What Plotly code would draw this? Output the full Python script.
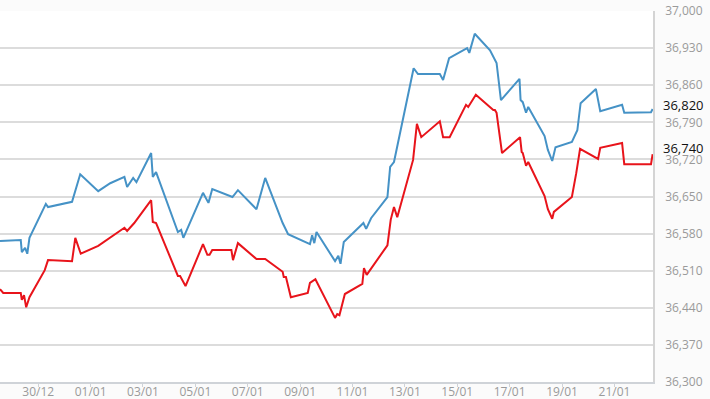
import plotly.graph_objects as go

blue_time = [
    "2022-12-28 13:00", "2022-12-29 08:00", "2022-12-29 09:00", "2022-12-29 12:00", "2022-12-29 14:00", "2022-12-29 16:00",
    "2022-12-30 07:00", "2022-12-30 09:00", "2022-12-31 07:00", "2022-12-31 14:30", "2023-01-01 07:00", "2023-01-01 18:00",
    "2023-01-02 07:00", "2023-01-02 09:30", "2023-01-02 15:00", "2023-01-02 18:00", "2023-01-03 07:30", "2023-01-03 09:00",
    "2023-01-03 12:00", "2023-01-04 08:00", "2023-01-04 11:00", "2023-01-04 13:00", "2023-01-05 07:00", "2023-01-05 12:00",
    "2023-01-05 15:30", "2023-01-06 10:00", "2023-01-06 15:00", "2023-01-07 08:00", "2023-01-07 16:00", "2023-01-08 08:00",
    "2023-01-08 13:00", "2023-01-09 09:00", "2023-01-09 11:00", "2023-01-09 13:00", "2023-01-09 15:00", "2023-01-10 08:00",
    "2023-01-10 11:00", "2023-01-10 13:00", "2023-01-10 16:00", "2023-01-11 10:00", "2023-01-11 12:30", "2023-01-11 17:00",
    "2023-01-12 08:00", "2023-01-12 10:30", "2023-01-12 14:00", "2023-01-13 08:00", "2023-01-13 12:00", "2023-01-14 08:00",
    "2023-01-14 11:00", "2023-01-14 16:30", "2023-01-15 09:00", "2023-01-15 11:00", "2023-01-15 16:00", "2023-01-16 06:00",
    "2023-01-16 12:00", "2023-01-16 16:00", "2023-01-17 09:00", "2023-01-17 10:00", "2023-01-17 12:00", "2023-01-17 15:00",
    "2023-01-17 17:00", "2023-01-18 08:00", "2023-01-18 11:00", "2023-01-18 15:00", "2023-01-18 18:00", "2023-01-19 09:00",
    "2023-01-19 14:00", "2023-01-19 17:00", "2023-01-20 07:00", "2023-01-20 11:00", "2023-01-21 07:00", "2023-01-21 09:00",
    "2023-01-22 09:30", "2023-01-22 11:00",
]
blue_val = [
    36566, 36568, 36545, 36553, 36542, 36572,
    36636, 36630, 36640, 36692, 36660, 36675,
    36687, 36668, 36685, 36677, 36732, 36687,
    36696, 36583, 36587, 36572, 36657, 36638,
    36664, 36649, 36662, 36626, 36685, 36600,
    36579, 36560, 36577, 36562, 36583, 36528,
    36538, 36523, 36564, 36600, 36589, 36609,
    36649, 36706, 36715, 36892, 36881, 36881,
    36870, 36911, 36930, 36921, 36957, 36926,
    36902, 36832, 36872, 36832, 36828, 36808,
    36819, 36764, 36738, 36717, 36743, 36753,
    36775, 36826, 36853, 36811, 36823, 36808,
    36809, 36815,
]

red_time = [
    "2022-12-28 13:00", "2022-12-28 16:00", "2022-12-29 08:00", "2022-12-29 09:00", "2022-12-29 11:00", "2022-12-29 13:00",
    "2022-12-29 16:00", "2022-12-30 06:00", "2022-12-30 09:00", "2022-12-31 07:00", "2022-12-31 10:00", "2022-12-31 15:00",
    "2023-01-01 07:00", "2023-01-02 07:00", "2023-01-02 09:30", "2023-01-02 16:00", "2023-01-03 07:30", "2023-01-03 09:00",
    "2023-01-03 12:00", "2023-01-04 08:00", "2023-01-04 10:00", "2023-01-04 15:00", "2023-01-05 07:00", "2023-01-05 11:00",
    "2023-01-05 13:00", "2023-01-05 15:30", "2023-01-06 09:00", "2023-01-06 10:30", "2023-01-06 15:00", "2023-01-07 08:00",
    "2023-01-07 16:00", "2023-01-08 08:00", "2023-01-08 09:00", "2023-01-08 11:00", "2023-01-08 15:30", "2023-01-09 07:00",
    "2023-01-09 09:00", "2023-01-09 14:00", "2023-01-10 08:00", "2023-01-10 10:00", "2023-01-10 12:00", "2023-01-10 17:00",
    "2023-01-11 09:00", "2023-01-11 10:30", "2023-01-11 13:00", "2023-01-12 08:00", "2023-01-12 11:00", "2023-01-12 14:00",
    "2023-01-12 17:00", "2023-01-13 07:30", "2023-01-13 11:00", "2023-01-13 15:00", "2023-01-14 08:00", "2023-01-14 11:00",
    "2023-01-14 17:00", "2023-01-15 08:00", "2023-01-15 10:00", "2023-01-15 17:00", "2023-01-16 09:00", "2023-01-16 10:30",
    "2023-01-16 12:00", "2023-01-16 17:00", "2023-01-17 09:30", "2023-01-17 11:00", "2023-01-17 12:00", "2023-01-17 15:00",
    "2023-01-17 17:00", "2023-01-18 08:00", "2023-01-18 11:00", "2023-01-18 15:00", "2023-01-18 16:30", "2023-01-19 09:00",
    "2023-01-19 13:00", "2023-01-19 16:30", "2023-01-20 09:00", "2023-01-20 11:00", "2023-01-21 07:00", "2023-01-21 09:00",
    "2023-01-22 09:30", "2023-01-22 11:00",
]
red_val = [
    36475, 36468, 36468, 36455, 36464, 36441,
    36460, 36511, 36530, 36528, 36572, 36542,
    36557, 36591, 36585, 36600, 36643, 36602,
    36600, 36500, 36500, 36481, 36560, 36540,
    36540, 36549, 36549, 36530, 36562, 36532,
    36532, 36508, 36498, 36498, 36460, 36468,
    36487, 36494, 36421, 36428, 36426, 36466,
    36485, 36515, 36502, 36558, 36606, 36630,
    36611, 36719, 36787, 36762, 36792, 36762,
    36762, 36823, 36819, 36842, 36813, 36813,
    36808, 36732, 36762, 36734, 36732, 36708,
    36715, 36651, 36626, 36608, 36621, 36649,
    36694, 36740, 36721, 36742, 36751, 36711,
    36711, 36730,
]

last_labels = [("36,820", 36820), ("36,740", 36740)]
x_range = ["2022-12-28 13:00", "2023-01-22 11:20"]
y_range = [36300, 37000]

fig = go.Figure()
fig.add_trace(go.Scatter(x=blue_time, y=blue_val, mode="lines",
                         line=dict(color="#4592c6", width=2), showlegend=False))
fig.add_trace(go.Scatter(x=red_time, y=red_val, mode="lines",
                         line=dict(color="#e8141b", width=2), showlegend=False))

for txt, val in last_labels:
    fig.add_annotation(x=1, xref="paper", xanchor="left", xshift=8,
                       y=val, yref="y", yanchor="middle", yshift=1, text=txt, showarrow=False,
                       font=dict(family="Open Sans, Arial, sans-serif", size=13, color="#111111"))

fig.update_layout(
    width=710, height=399,
    margin=dict(l=0, r=57, t=11, b=17, autoexpand=False),
    paper_bgcolor="#fbfbfb", plot_bgcolor="#ffffff",
    font=dict(family="Open Sans, Arial, sans-serif", size=12, color="#9a9a9a"),
    xaxis=dict(type="date", range=x_range, tick0="2022-12-30", dtick=2 * 86400000,
               tickformat="%d/%m", showgrid=False, zeroline=False, automargin=False,
               showline=True, linecolor="#cfd3d8", linewidth=2,
               ticks="outside", ticklen=3, tickcolor="#cfd3d8", tickwidth=1,
               ticklabelstandoff=-5,
               tickfont=dict(size=12, color="#9a9a9a")),
    yaxis=dict(side="right", range=y_range, tick0=36300, dtick=70, tickformat=",",
               showgrid=True, gridcolor="#dcdcdc", gridwidth=1.5, zeroline=False, automargin=False,
               showline=True, linecolor="#d4d4d4", linewidth=1.5,
               ticks="outside", ticklen=8, tickcolor="rgba(0,0,0,0)",
               tickfont=dict(size=12, color="#9a9a9a")),
)

fig.write_html("out.html", config={"displayModeBar": False},
               post_script="document.body.style.margin='0';document.body.style.padding='0';")
